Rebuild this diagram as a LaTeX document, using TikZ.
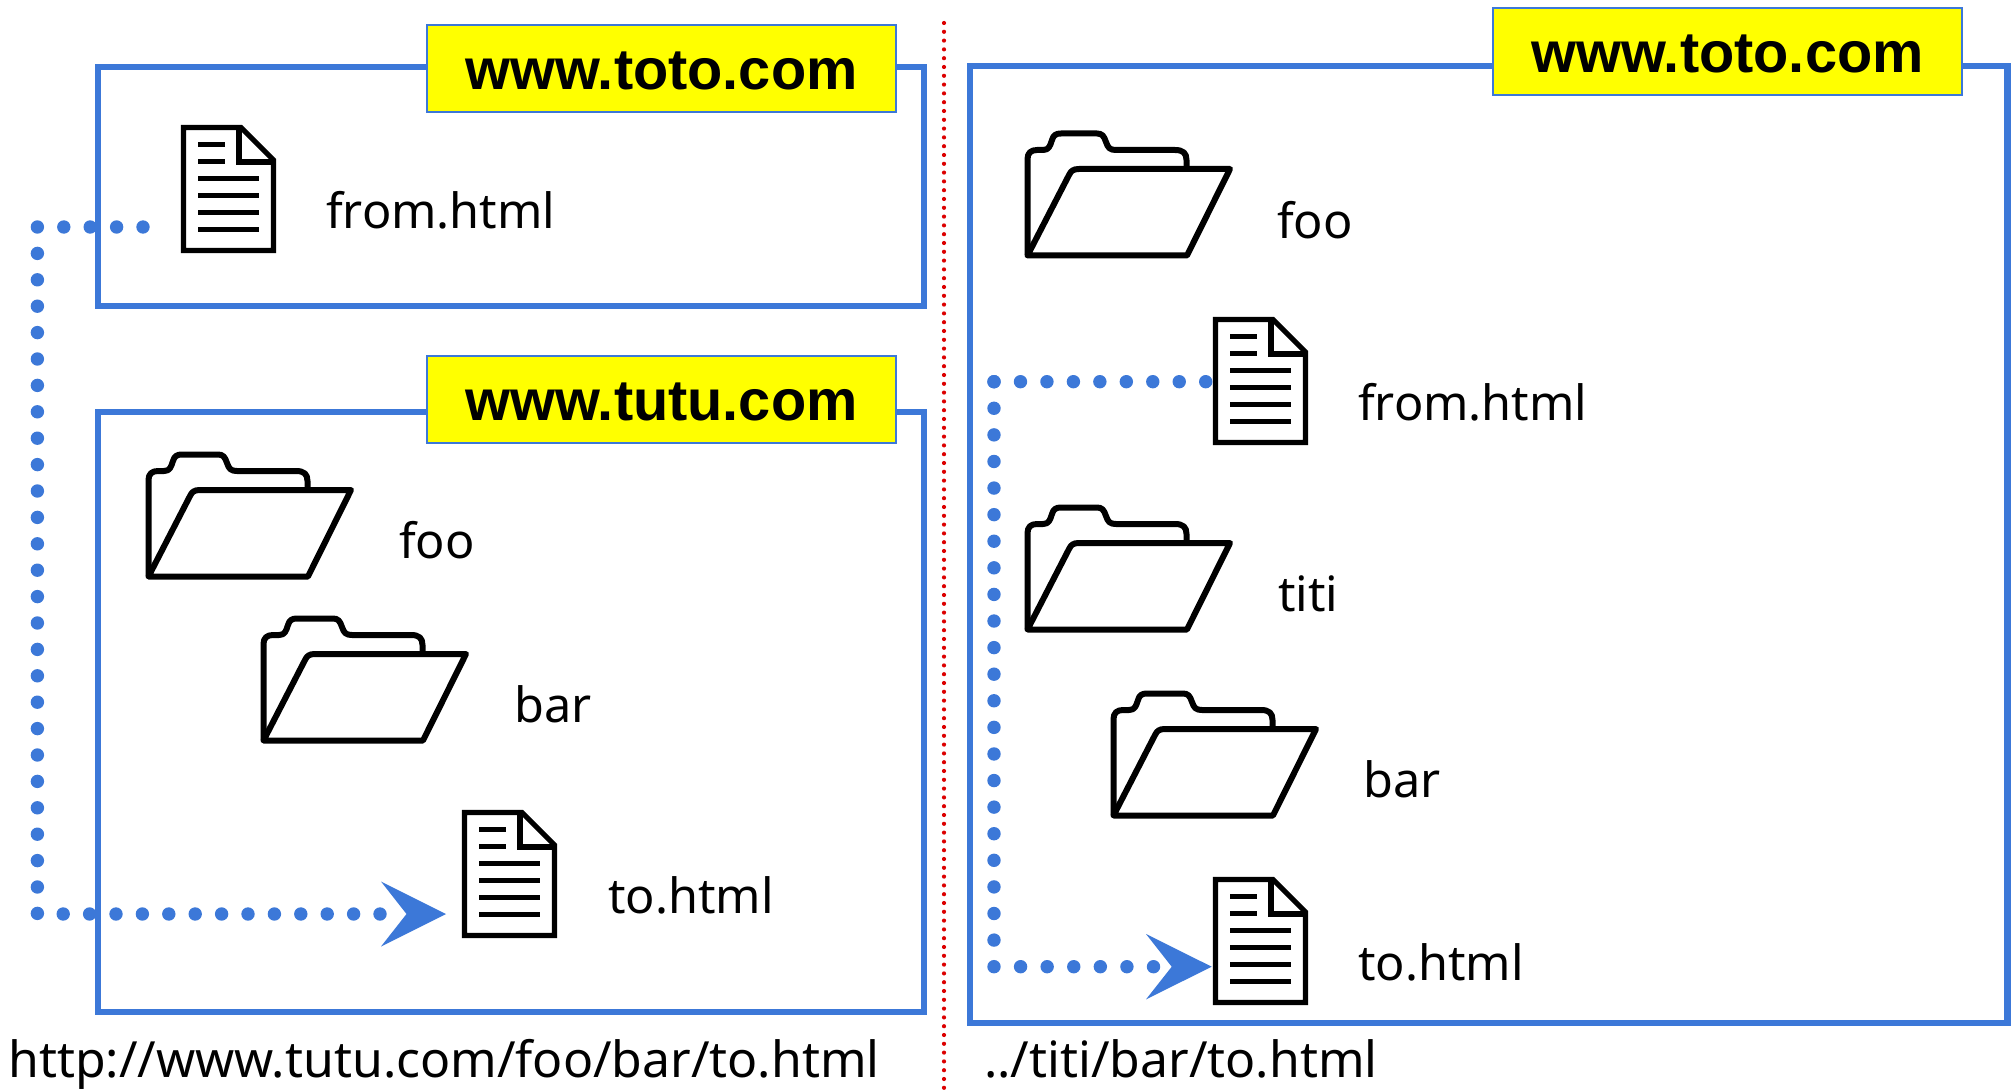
\documentclass[tikz,border=0pt]{standalone}
\usepackage{fontspec}
\setmainfont{Noto Sans}
\newfontfamily\boldfam{Liberation Sans}
\definecolor{bl}{HTML}{3C78D8}
\definecolor{yl}{HTML}{FFFF00}
\definecolor{rd}{HTML}{DC0000}
\tikzset{
  x=1pt,y=-1pt,
  site/.style={draw=bl,line width=6.6pt,fill=white,outer sep=0pt,inner sep=0pt,anchor=north west},
  tag/.style={draw=bl,line width=2pt,fill=yl,outer sep=0pt,minimum width=469pt,minimum height=87pt,inner sep=0pt,text height=42.4pt,text depth=0pt,font=\boldfam\fontsize{57.7}{60}\selectfont\bfseries,text=black},
  lbl/.style={anchor=base west,inner sep=0pt,font=\fontsize{48.6}{54}\selectfont,text=black},
  url/.style={anchor=base west,inner sep=0pt,font=\fontsize{49.9}{54}\selectfont,text=black},
  ico/.style={line width=5.2pt,draw=black,miter limit=10},
  anchorbox/.style={inner sep=0pt,outer sep=0pt,minimum width=95pt,minimum height=128pt,anchor=north west},
  hop/.style={draw=bl,line width=13.4pt,line cap=round,dash pattern=on 0pt off #1},
  hop/.default=26.4pt,
  sep/.style={draw=rd,line width=4.2pt,line cap=round,dash pattern=on 0pt off 8.8pt},
}
\newcommand{\docicon}[2]{%
  \begin{scope}[shift={(#1,#2)}]
    \draw[ico,fill=white] (2.5,2.5) -- (60,2.5) -- (92.5,35) -- (92.5,125.5) -- (2.5,125.5) -- cycle;
    \draw[ico] (58,2.5) -- (58,37) -- (92.5,37);
    \foreach \yy/\xx in {19.7/27,36.7/27,53.7/61,70.7/61,87.7/61,104.7/61}
      \draw[black,line width=5.2pt] (17,\yy) -- (17+\xx,\yy);
  \end{scope}}
\newcommand{\foldericon}[2]{%
  \begin{scope}[shift={(#1,#2)},line join=round]
    \draw[line width=6pt,black,fill=white] (2.5,124.5) -- (2.5,28) .. controls (2.5,22) and (6,19) .. (12,19)
      -- (18,19) .. controls (24,19) and (25,15) .. (27,9)
      .. controls (28.5,4) and (31,2.5) .. (36,2.5) -- (72,2.5)
      .. controls (77,2.5) and (79,5) .. (81,11)
      .. controls (83,17) and (85,19) .. (91,19) -- (150,19)
      .. controls (158,19) and (161.5,22) .. (161.5,29) -- (161.5,40);
    \draw[line width=6pt,black,fill=white] (2.5,124.5) -- (44,44) .. controls (46,40) and (48,38) .. (54,38)
      -- (205,38) -- (162,124.5) -- cycle;
  \end{scope}}
\begin{document}
\begin{tikzpicture}
\useasboundingbox (0,0) rectangle (2013,1091);
\fill[white] (0,0) rectangle (2013,1091);

% separator
\coordinate (sepT) at (944,23);
\coordinate (sepB) at (944,1091);
\draw[sep] (sepT) -- (sepB);

% site frames
\node[site,minimum width=826pt,minimum height=239pt] (siteA) at (98,67) {};
\node[site,minimum width=826pt,minimum height=600pt] (siteB) at (98,412) {};
\node[site,minimum width=1037.6pt,minimum height=957pt] (siteC) at (970,66) {};

% tags
\node[tag] (tagA) at (661.5,68.5) {www.toto.com};
\node[tag] (tagB) at (661.5,399.5) {www.tutu.com};
\node[tag] (tagC) at (1727.5,51.5) {www.toto.com};

% icons
\node[anchorbox] (fromA) at (181,125) {}; \docicon{181}{125}
\node[anchorbox] (toB) at (462,810) {};   \docicon{462}{810}
\node[anchorbox] (fromC) at (1213,317) {};\docicon{1213}{317}
\node[anchorbox] (toC) at (1213,877) {};  \docicon{1213}{877}
\foldericon{146}{452}
\foldericon{261}{616}
\foldericon{1025}{131}
\foldericon{1025}{505}
\foldericon{1111}{691}

% labels
\node[lbl] (l1) at (326,228.5) {from.html};
\node[lbl] (l2) at (399,558.5) {foo};
\node[lbl] (l3) at (514,722.5) {bar};
\node[lbl] (l4) at (608,913.5) {to.html};
\node[lbl] (l5) at (1277,238.5) {foo};
\node[lbl] (l6) at (1358,420.5) {from.html};
\node[lbl] (l7) at (1278,611) {titi};
\node[lbl] (l8) at (1363,797.5) {bar};
\node[lbl] (l9) at (1358,980.5) {to.html};
\node[url] (u1) at (8,1077) {http://www.tutu.com/foo/bar/to.html};
\node[url] (u2) at (984,1077) {../titi/bar/to.html};

% connectors
\coordinate (a0) at ([xshift=-38pt,yshift=-102pt]fromA.north west);
\coordinate (a1) at (37.4,227);
\coordinate (a2) at (37.4,914);
\coordinate (a3) at ([xshift=-16pt,yshift=-104pt]toB.north west);
\draw[hop] (a0) -- (a1) -- (a2) -- ([xshift=-60pt]a3);
\fill[bl] (a3) -- ++(-65,-32.5) -- ++(25.5,32.5) -- ++(-25.5,32.5) -- cycle;

\coordinate (c0) at ([xshift=-7.3pt,yshift=-64.7pt]fromC.north west);
\coordinate (c1) at (994,381.7);
\coordinate (c2) at (994,966.7);
\coordinate (c3) at ([xshift=-1.3pt,yshift=-89.7pt]toC.north west);
\draw[hop=26.46pt] (c0) -- (c1);
\draw[hop=26.59pt] (c1) -- (c2) -- ([xshift=-55pt]c3);
\fill[bl] (c3) -- ++(-65.7,-32.7) -- ++(25.7,32.7) -- ++(-25.7,32.7) -- cycle;
\end{tikzpicture}
\end{document}
